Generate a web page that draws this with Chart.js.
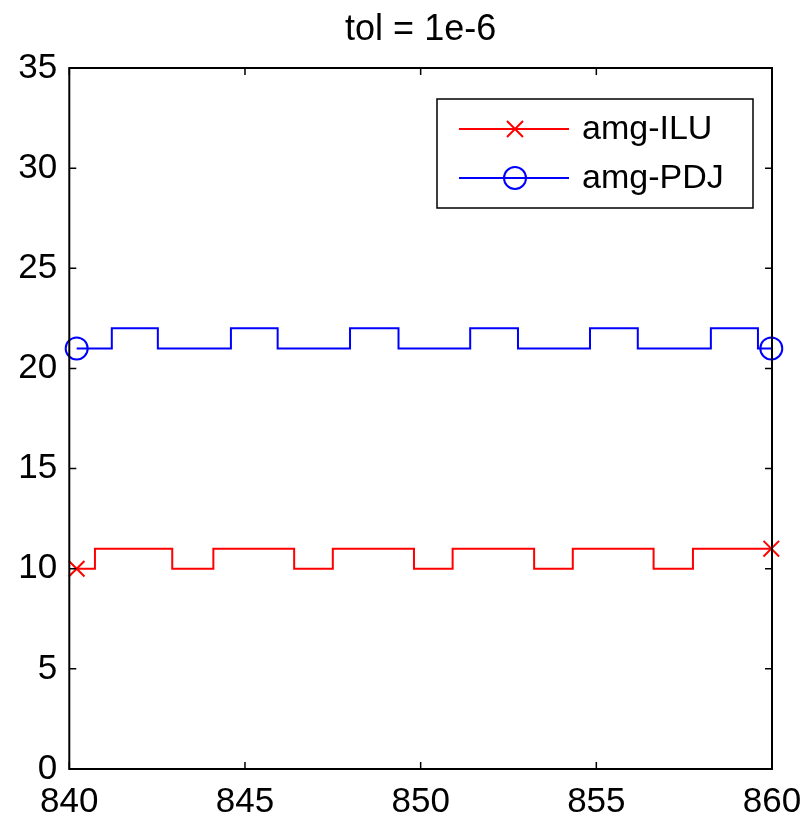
<!DOCTYPE html>
<html>
<head>
<meta charset="utf-8">
<title>tol = 1e-6</title>
<script src="https://cdn.jsdelivr.net/npm/chart.js@4.4.0/dist/chart.umd.min.js"></script>
<style>
  html, body { margin: 0; padding: 0; background: #fff; }
  #wrap { width: 808px; height: 818px; }
</style>
</head>
<body>
<div id="wrap"><canvas id="chart" width="808" height="818"></canvas></div>
<script>
// data (x where each level starts, y level)
const titleText = 'tol = 1e-6';
const seriesNames = ['amg-ILU', 'amg-PDJ'];
const iluX = [840.21, 840.73, 842.93, 844.10, 846.40, 847.50, 849.81, 850.91, 853.23, 854.33, 856.63, 857.75, 859.98];
const iluY = [10, 11, 10, 11, 10, 11, 10, 11, 10, 11, 10, 11, 11];
const pdjX = [840.21, 841.21, 842.52, 844.60, 845.93, 847.99, 849.37, 851.41, 852.77, 854.82, 856.18, 858.26, 859.60, 859.98];
const pdjY = [21, 22, 21, 22, 21, 22, 21, 22, 21, 22, 21, 22, 21, 21];
const xTicks = [840, 845, 850, 855, 860];
const yTicks = [0, 5, 10, 15, 20, 25, 30, 35];

const FONT = '"Liberation Sans", Arial, Helvetica, sans-serif';
const FSIZE = 35;

function toPoints(xs, ys) {
  return xs.map((x, i) => ({ x: x, y: ys[i] }));
}
function endsOnly(xs, r) {
  return xs.map((_, i) => (i === 0 || i === xs.length - 1) ? r : 0);
}

// box, inner ticks, title and legend in MATLAB style
const matlabFrame = {
  id: 'matlabFrame',
  afterDraw(chart) {
    const ctx = chart.ctx;
    const a = chart.chartArea;
    const xs = chart.scales.x, ys = chart.scales.y;
    ctx.save();
    ctx.strokeStyle = '#000';
    ctx.lineWidth = 2;
    ctx.strokeRect(a.left, a.top, a.right - a.left, a.bottom - a.top);

    ctx.lineWidth = 1.5;
    const tl = 7;
    ctx.beginPath();
    xTicks.forEach(v => {
      const px = xs.getPixelForValue(v);
      ctx.moveTo(px, a.bottom); ctx.lineTo(px, a.bottom - tl);
      ctx.moveTo(px, a.top); ctx.lineTo(px, a.top + tl);
    });
    yTicks.forEach(v => {
      const py = ys.getPixelForValue(v);
      ctx.moveTo(a.left, py); ctx.lineTo(a.left + tl, py);
      ctx.moveTo(a.right, py); ctx.lineTo(a.right - tl, py);
    });
    ctx.stroke();

    // title
    ctx.fillStyle = '#000';
    ctx.font = '36px ' + FONT;
    ctx.textAlign = 'center';
    ctx.textBaseline = 'middle';
    ctx.fillText(titleText, (a.left + a.right) / 2, 30);

    // legend
    const lx = 437, ly = 99, lw = 316, lh = 109;
    ctx.fillStyle = '#fff';
    ctx.fillRect(lx, ly, lw, lh);
    ctx.lineWidth = 1.5;
    ctx.strokeStyle = '#000';
    ctx.strokeRect(lx, ly, lw, lh);
    ctx.font = '34px ' + FONT;
    const rows = [
      { y: 129, color: '#ff0000', mark: 'x' },
      { y: 178, color: '#0000ff', mark: 'o' }
    ];
    rows.forEach((r, i) => {
      ctx.strokeStyle = r.color;
      ctx.lineWidth = 2;
      ctx.beginPath();
      ctx.moveTo(459, r.y); ctx.lineTo(569, r.y);
      ctx.stroke();
      ctx.beginPath();
      if (r.mark === 'x') {
        ctx.moveTo(515 - 8, r.y - 8); ctx.lineTo(515 + 8, r.y + 8);
        ctx.moveTo(515 - 8, r.y + 8); ctx.lineTo(515 + 8, r.y - 8);
      } else {
        ctx.arc(515, r.y, 11, 0, Math.PI * 2);
      }
      ctx.stroke();
      ctx.fillStyle = '#000';
      ctx.textAlign = 'left';
      ctx.textBaseline = 'middle';
      ctx.fillText(seriesNames[i], 582, r.y + 1);
    });
    ctx.restore();
  }
};

new Chart(document.getElementById('chart'), {
  type: 'line',
  data: {
    datasets: [
      {
        label: seriesNames[0],
        data: toPoints(iluX, iluY),
        borderColor: '#ff0000',
        borderWidth: 2,
        stepped: true,
        pointStyle: 'crossRot',
        pointRadius: endsOnly(iluX, 11),
        pointBorderColor: '#ff0000',
        pointBorderWidth: 2,
        pointBackgroundColor: 'rgba(0,0,0,0)',
        clip: false
      },
      {
        label: seriesNames[1],
        data: toPoints(pdjX, pdjY),
        borderColor: '#0000ff',
        borderWidth: 2,
        stepped: true,
        pointStyle: 'circle',
        pointRadius: endsOnly(pdjX, 11),
        pointBorderColor: '#0000ff',
        pointBorderWidth: 2,
        pointBackgroundColor: 'rgba(0,0,0,0)',
        clip: false
      }
    ]
  },
  options: {
    responsive: false,
    animation: false,
    events: [],
    layout: { padding: { left: 0, top: 68, right: 36, bottom: 0 } },
    plugins: {
      legend: { display: false },
      title: { display: false },
      tooltip: { enabled: false }
    },
    scales: {
      x: {
        type: 'linear',
        min: 840,
        max: 860,
        afterBuildTicks: s => { s.ticks = xTicks.map(v => ({ value: v })); },
        afterFit: s => { s.height = 49; s.paddingLeft = 0; s.paddingRight = 0; },
        grid: { display: false, drawTicks: false },
        border: { display: false },
        ticks: { color: '#000', padding: 12, maxRotation: 0, font: { family: FONT, size: FSIZE } }
      },
      y: {
        type: 'linear',
        min: 0,
        max: 35,
        afterBuildTicks: s => { s.ticks = yTicks.map(v => ({ value: v })); },
        afterFit: s => { s.width = 69.3; s.paddingTop = 0; s.paddingBottom = 0; },
        grid: { display: false, drawTicks: false },
        border: { display: false },
        ticks: { color: '#000', padding: 12, font: { family: FONT, size: FSIZE } }
      }
    }
  },
  plugins: [matlabFrame]
});
</script>
</body>
</html>
